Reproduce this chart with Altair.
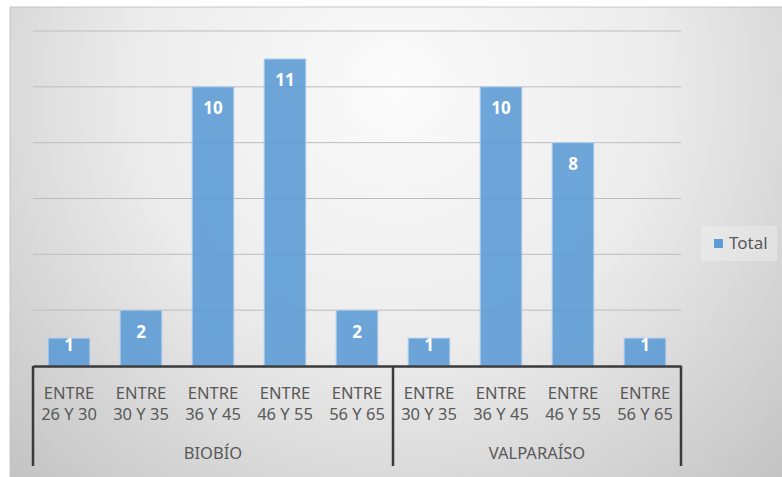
import altair as alt
import pandas as pd

# ---- data ----
groups = ["BIOBÍO", "VALPARAÍSO"]
biobio_ages = ["ENTRE 26 Y 30", "ENTRE 30 Y 35", "ENTRE 36 Y 45", "ENTRE 46 Y 55", "ENTRE 56 Y 65"]
biobio_vals = [1, 2, 10, 11, 2]
valpo_ages = ["ENTRE 30 Y 35", "ENTRE 36 Y 45", "ENTRE 46 Y 55", "ENTRE 56 Y 65"]
valpo_vals = [1, 10, 8, 1]
series_name = "Total"
grid_vals = [2, 4, 6, 8, 10, 12]

rows = []
for g, ages, vals in [(groups[0], biobio_ages, biobio_vals), (groups[1], valpo_ages, valpo_vals)]:
    for a, v in zip(ages, vals):
        rows.append({"key": g + "|" + a, "region": g, "age": a, "value": v, "serie": series_name})
df = pd.DataFrame(rows)
order = list(df["key"])

counts = [len(biobio_ages), len(valpo_ages)]
bounds = [0]
for c in counts:
    bounds.append(bounds[-1] + c)
sep_df = pd.DataFrame({"b": bounds})
grp_df = pd.DataFrame({"region": groups,
                       "mid": [(bounds[i] + bounds[i + 1]) / 2 for i in range(len(groups))]})
grid_df = pd.DataFrame({"g": grid_vals})

W, H = 648, 335
PL, PT, PR, PB = 33, 31, 101, 111
FONT = "Noto Sans"
TXT = "#595959"

yscale = alt.Scale(domain=[0, 12], nice=False)
xscale = alt.Scale(paddingInner=0.42, paddingOuter=0.21)

bg = alt.Chart(pd.DataFrame({"d": [0]})).mark_rect(
    fill=alt.RadialGradient(
        gradient="radial",
        stops=[alt.GradientStop(offset=0, color="#fbfbfb"),
               alt.GradientStop(offset=0.45, color="#ececec"),
               alt.GradientStop(offset=1, color="#bfbfbf")],
        x1=0.5, y1=0.3, r1=0, x2=0.5, y2=0.3, r2=0.75),
    stroke="#c6c6c6", strokeWidth=1,
).encode(x=alt.value(10 - PL), x2=alt.value(W + PR + 2),
         y=alt.value(7 - PT), y2=alt.value(H + PB + 2))

grid = alt.Chart(grid_df).mark_rule(color="#bdbdbd", strokeWidth=1).encode(
    x=alt.value(0), x2=alt.value(W),
    y=alt.Y("g:Q", scale=yscale, axis=None))

bars = alt.Chart(df).mark_bar(opacity=0.88, stroke="#b4d0ee", strokeWidth=1).encode(
    x=alt.X("key:N", sort=order, scale=xscale, title=None,
            axis=alt.Axis(labelAngle=0, ticks=False, domainColor="#3a3a3a", domainWidth=2.5,
                          labelFont=FONT, labelFontSize=16.5, labelColor=TXT, labelPadding=19,
                          labelLineHeight=21, grid=False, zindex=2,
                          labelExpr="['ENTRE', replace(split(datum.label, '|')[1], 'ENTRE ', '')]")),
    y=alt.Y("value:Q", scale=yscale, axis=None),
    color=alt.Color("serie:N", scale=alt.Scale(range=["#5b9bd5"]),
                    legend=alt.Legend(title=None, orient="none", legendX=668, legendY=195,
                                      symbolType="square", symbolSize=80, symbolOpacity=1,
                                      symbolStrokeWidth=0, labelOffset=2,
                                      labelFont=FONT, labelFontSize=17, labelColor=TXT,
                                      padding=9, fillColor="rgba(255,255,255,0.25)")),
)

labels = alt.Chart(df).transform_calculate(
    ly="datum.value > 1.5 ? datum.value - 0.8 : datum.value - 0.3"
).mark_text(color="white", fontWeight="bold", font=FONT, fontSize=17, baseline="middle").encode(
    x=alt.X("key:N", sort=order, scale=xscale),
    y=alt.Y("ly:Q", scale=yscale, axis=None),
    text=alt.Text("value:Q"))

seps = alt.Chart(sep_df).mark_rule(color="#3a3a3a", strokeWidth=2.5).encode(
    x=alt.X("b:Q", scale=alt.Scale(domain=[0, bounds[-1]], nice=False, zero=False), axis=None),
    y=alt.value(H), y2=alt.value(H + 100))

grp = alt.Chart(grp_df).mark_text(font=FONT, fontSize=16.5, color=TXT, baseline="middle").encode(
    x=alt.X("mid:Q", scale=alt.Scale(domain=[0, bounds[-1]], nice=False, zero=False), axis=None),
    y=alt.value(H + 88), text="region:N")

chart = alt.layer(bg, grid, bars, labels, seps, grp).resolve_scale(x="independent").properties(
    width=W, height=H,
    autosize=alt.AutoSizeParams(type="none"),
    padding={"left": PL, "top": PT, "right": PR, "bottom": PB},
    background="white",
).configure_view(stroke=None)

chart.save("out.html", embed_options={"renderer": "svg", "actions": False})
